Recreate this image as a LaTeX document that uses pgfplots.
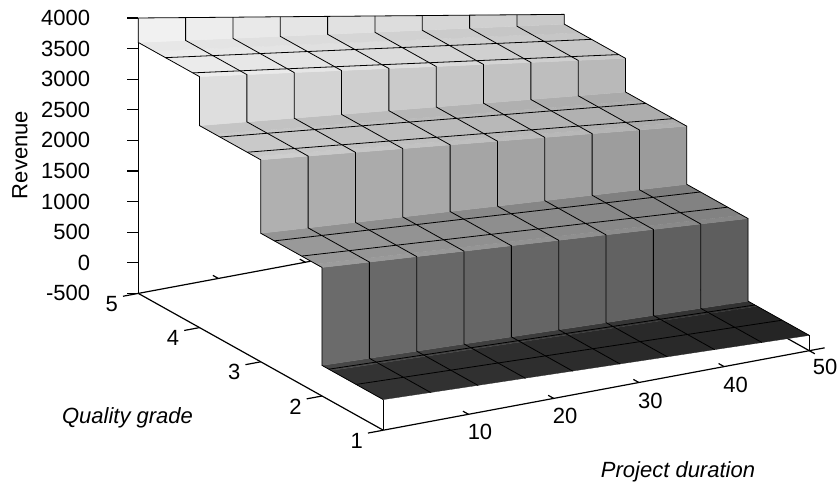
\documentclass[border=0pt]{standalone}
\usepackage{fontspec}
\setmainfont{Liberation Sans}
\usepackage{pgfplots}
\usepackage{pgfplotstable}
\pgfplotsset{compat=1.18}

% revenue at the ten duration grid values, one column per plateau
\pgfplotstableread{
x      L1    L2    L3    L4    L5
0      0     1600  2800  3600  4000
5.556  -28   1544  2717  3489  3862
11.111 -56   1489  2633  3378  3724
16.667 -83   1433  2550  3267  3587
22.222 -111  1378  2467  3156  3449
27.778 -139  1322  2383  3044  3311
33.333 -167  1267  2300  2933  3173
38.889 -194  1211  2217  2822  3036
44.444 -222  1156  2133  2711  2898
50     -250  1100  2050  2600  2760
}\levels

\newcommand\stepline[6]{\addplot3[gridline] coordinates {(#1,1,#2) (#1,2,#2) (#1,2,#3) (#1,3,#3) (#1,3,#4) (#1,4,#4) (#1,4,#5) (#1,5,#5) (#1,5,#6)};}
\newcommand\rowline[2]{\addplot3[gridline] table[x=x,y expr=#1,z=#2] {\levels};}
\newcommand\axline[2]{\addplot3[axisline] coordinates {#1 #2};}

\begin{document}
\fontsize{22}{24}\selectfont
\begin{tikzpicture}[x=1pt,y=1pt]
\useasboundingbox (0,0) rectangle (840,487);
\begin{axis}[
    at={(383.3pt,87.4pt)},
    anchor=origin,
    disabledatascaling,
    x={(8.52pt,1.59pt)},
    y={(-61.25pt,34.2pt)},
    z={(0pt,0.0612pt)},
    xmin=0, xmax=50,
    ymin=1, ymax=5,
    zmin=-500, zmax=4000,
    hide axis,
    clip=false,
    point meta min=-250,
    point meta max=4000,
    colormap={revgray}{gray(0cm)=(.14); gray(.25cm)=(.2); gray(.65cm)=(.36); gray(1.05cm)=(.42);
        gray(1.35cm)=(.5); gray(1.85cm)=(.6); gray(2.45cm)=(.69); gray(3.05cm)=(.79);
        gray(3.45cm)=(.87); gray(3.85cm)=(.92); gray(4.25cm)=(.97)},
    gridline/.style={black,line width=.8pt,no markers,forget plot},
    axisline/.style={black,line width=1.2pt,no markers,forget plot},
]
% axes behind the surface
\axline{(0,5,-500)}{(50,5,-500)}
\axline{(50,1,-500)}{(50,5,-500)}
\axline{(0,5,-500)}{(0,5,4000)}
\axline{(9.4,5,-500)}{(9.4,5.09,-500)}
\axline{(19.6,5,-500)}{(19.6,5.09,-500)}
\axline{(0,1,-500)}{(0,5,-500)}
\axline{(0,1,-500)}{(50,1,-500)}

\addplot3[surf,shader=flat corner,draw=mapped color,line width=.3pt,z buffer=none,
    mesh/rows=16,point meta=explicit] coordinates {
(0,1,0)[0] (5.556,1,-28)[-28] (11.111,1,-56)[-56] (16.667,1,-83)[-83] (22.222,1,-111)[-111] (27.778,1,-139)[-139] (33.333,1,-167)[-167] (38.889,1,-194)[-194] (44.444,1,-222)[-222] (50,1,-250)[-250]

(0,1.85,0)[200] (5.556,1.85,-28)[172] (11.111,1.85,-56)[144] (16.667,1.85,-83)[117] (22.222,1.85,-111)[89] (27.778,1.85,-139)[61] (33.333,1.85,-167)[33] (38.889,1.85,-194)[6] (44.444,1.85,-222)[-22] (50,1.85,-250)[-50]

(0,2,0)[800] (5.556,2,-28)[758] (11.111,2,-56)[717] (16.667,2,-83)[675] (22.222,2,-111)[634] (27.778,2,-139)[592] (33.333,2,-167)[550] (38.889,2,-194)[509] (44.444,2,-222)[467] (50,2,-250)[425]

(0,2,1600)[1680] (5.556,2,1544)[1624] (11.111,2,1489)[1569] (16.667,2,1433)[1513] (22.222,2,1378)[1458] (27.778,2,1322)[1402] (33.333,2,1267)[1347] (38.889,2,1211)[1291] (44.444,2,1156)[1236] (50,2,1100)[1180]

(0,2.1,1600)[1600] (5.556,2.1,1544)[1544] (11.111,2.1,1489)[1489] (16.667,2.1,1433)[1433] (22.222,2.1,1378)[1378] (27.778,2.1,1322)[1322] (33.333,2.1,1267)[1267] (38.889,2.1,1211)[1211] (44.444,2.1,1156)[1156] (50,2.1,1100)[1100]

(0,2.75,1600)[1500] (5.556,2.75,1544)[1444] (11.111,2.75,1489)[1389] (16.667,2.75,1433)[1333] (22.222,2.75,1378)[1278] (27.778,2.75,1322)[1222] (33.333,2.75,1267)[1167] (38.889,2.75,1211)[1111] (44.444,2.75,1156)[1056] (50,2.75,1100)[1000]

(0,3,1600)[2200] (5.556,3,1544)[2131] (11.111,3,1489)[2061] (16.667,3,1433)[1992] (22.222,3,1378)[1922] (27.778,3,1322)[1853] (33.333,3,1267)[1783] (38.889,3,1211)[1714] (44.444,3,1156)[1644] (50,3,1100)[1575]

(0,3,2800)[2880] (5.556,3,2717)[2797] (11.111,3,2633)[2713] (16.667,3,2550)[2630] (22.222,3,2467)[2547] (27.778,3,2383)[2463] (33.333,3,2300)[2380] (38.889,3,2217)[2297] (44.444,3,2133)[2213] (50,3,2050)[2130]

(0,3.1,2800)[2800] (5.556,3.1,2717)[2717] (11.111,3.1,2633)[2633] (16.667,3.1,2550)[2550] (22.222,3.1,2467)[2467] (27.778,3.1,2383)[2383] (33.333,3.1,2300)[2300] (38.889,3.1,2217)[2217] (44.444,3.1,2133)[2133] (50,3.1,2050)[2050]

(0,3.75,2800)[2700] (5.556,3.75,2717)[2617] (11.111,3.75,2633)[2533] (16.667,3.75,2550)[2450] (22.222,3.75,2467)[2367] (27.778,3.75,2383)[2283] (33.333,3.75,2300)[2200] (38.889,3.75,2217)[2117] (44.444,3.75,2133)[2033] (50,3.75,2050)[1950]

(0,4,2800)[3200] (5.556,4,2717)[3103] (11.111,4,2633)[3006] (16.667,4,2550)[2908] (22.222,4,2467)[2811] (27.778,4,2383)[2714] (33.333,4,2300)[2617] (38.889,4,2217)[2519] (44.444,4,2133)[2422] (50,4,2050)[2325]

(0,4,3600)[3680] (5.556,4,3489)[3569] (11.111,4,3378)[3458] (16.667,4,3267)[3347] (22.222,4,3156)[3236] (27.778,4,3044)[3124] (33.333,4,2933)[3013] (38.889,4,2822)[2902] (44.444,4,2711)[2791] (50,4,2600)[2680]

(0,4.1,3600)[3600] (5.556,4.1,3489)[3489] (11.111,4.1,3378)[3378] (16.667,4.1,3267)[3267] (22.222,4.1,3156)[3156] (27.778,4.1,3044)[3044] (33.333,4.1,2933)[2933] (38.889,4.1,2822)[2822] (44.444,4.1,2711)[2711] (50,4.1,2600)[2600]

(0,4.75,3600)[3500] (5.556,4.75,3489)[3389] (11.111,4.75,3378)[3278] (16.667,4.75,3267)[3167] (22.222,4.75,3156)[3056] (27.778,4.75,3044)[2944] (33.333,4.75,2933)[2833] (38.889,4.75,2822)[2722] (44.444,4.75,2711)[2611] (50,4.75,2600)[2500]

(0,5,3600)[3800] (5.556,5,3489)[3676] (11.111,5,3378)[3551] (16.667,5,3267)[3427] (22.222,5,3156)[3302] (27.778,5,3044)[3178] (33.333,5,2933)[3053] (38.889,5,2822)[2929] (44.444,5,2711)[2805] (50,5,2600)[2680]

(0,5,4000)[4000] (5.556,5,3862)[3862] (11.111,5,3724)[3724] (16.667,5,3587)[3587] (22.222,5,3449)[3449] (27.778,5,3311)[3311] (33.333,5,3173)[3173] (38.889,5,3036)[3036] (44.444,5,2898)[2898] (50,5,2760)[2760]
};

% mesh lines running back along the steps
\stepline{0}{0}{1600}{2800}{3600}{4000}
\stepline{5.556}{-28}{1544}{2717}{3489}{3862}
\stepline{11.111}{-56}{1489}{2633}{3378}{3724}
\stepline{16.667}{-83}{1433}{2550}{3267}{3587}
\stepline{22.222}{-111}{1378}{2467}{3156}{3449}
\stepline{27.778}{-139}{1322}{2383}{3044}{3311}
\stepline{33.333}{-167}{1267}{2300}{2933}{3173}
\stepline{38.889}{-194}{1211}{2217}{2822}{3036}
\stepline{44.444}{-222}{1156}{2133}{2711}{2898}
\stepline{50}{-250}{1100}{2050}{2600}{2760}
% mesh lines across
\rowline{1.444}{L1}
\rowline{1.889}{L1}
\rowline{2.333}{L2}
\rowline{2.778}{L2}
\rowline{3.222}{L3}
\rowline{3.667}{L3}
\rowline{4.111}{L4}
\rowline{4.556}{L4}
\rowline{5}{L5}

% front corners and ticks
\axline{(0,1,-500)}{(0,1,0)}
\axline{(50,1,-500)}{(50,1,-250)}
\axline{(50,0.91,-500)}{(50,1,-500)}
\axline{(50,1,-500)}{(51.8,1,-500)}
\pgfplotsinvokeforeach{10,20,30,40}{
    \axline{(#1,1,-500)}{(#1,1.09,-500)}
    \node at (axis cs:#1,1,-500) [xshift=11.5pt,yshift=-18pt] {#1};
}
\node at (axis cs:50,1,-500) [xshift=15.7pt,yshift=-16pt] {50};
\pgfplotsinvokeforeach{1,2,3,4,5}{
    \axline{(0,#1,-500)}{(-1.8,#1,-500)}
    \node at (axis cs:0,#1,-500) [xshift=-26.5pt,yshift=-10.5pt] {#1};
}
\pgfplotsinvokeforeach{-500,0,500,1000,1500,2000,2500,3000,3500,4000}{
    \draw[line width=1.2pt] (axis cs:0,5,#1) -- ++(-11pt,0);
    \node[anchor=east,inner sep=0pt] at (axis cs:0,5,#1) [xshift=-48pt] {#1};
}
\end{axis}
\node[rotate=90] at (20,332) {Revenue};
\node at (127.5,69) {\itshape Quality grade};
\node at (678,15) {\itshape Project duration};
\end{tikzpicture}
\end{document}
